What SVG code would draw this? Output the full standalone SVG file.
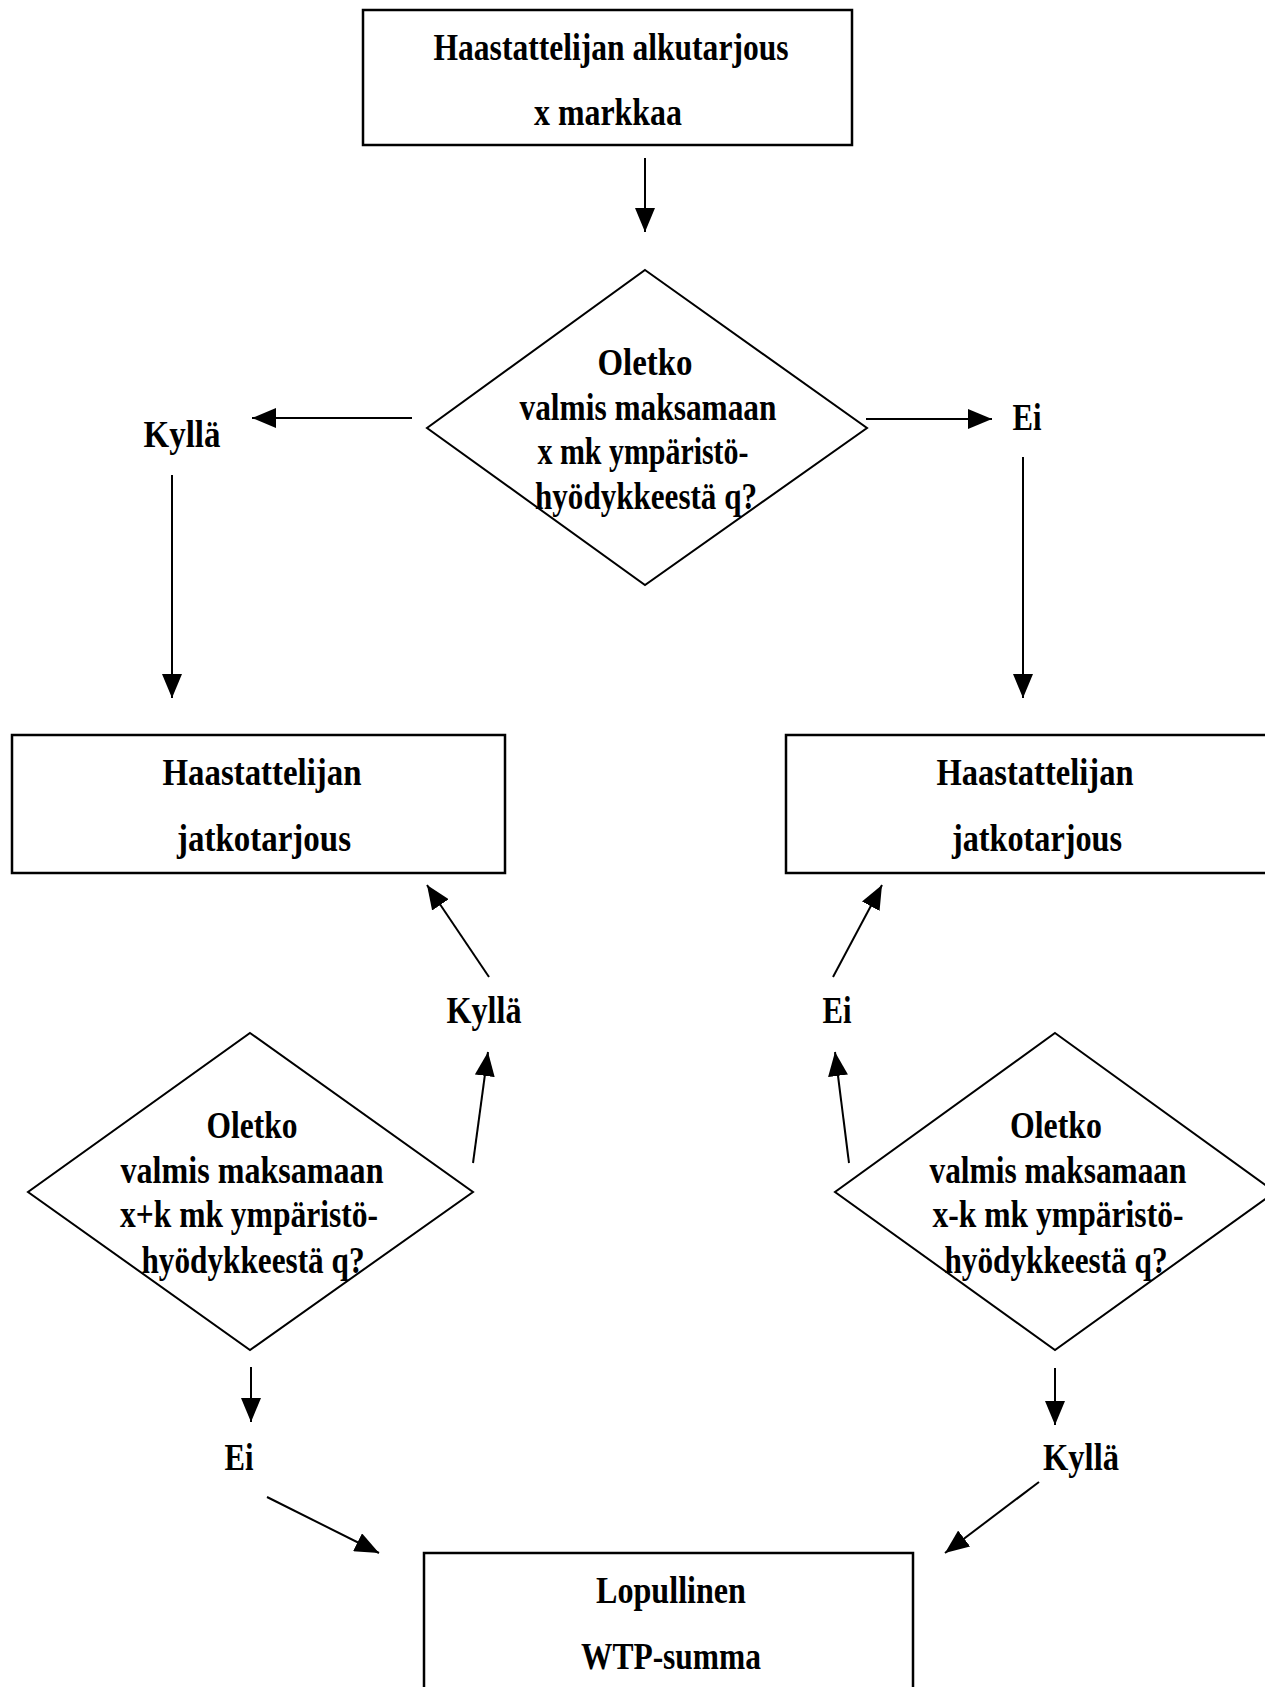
<svg xmlns="http://www.w3.org/2000/svg" width="1265" height="1687" viewBox="0 0 1265 1687">
<style>
.box{fill:#fff;stroke:#000;stroke-width:2.5}
.dia{fill:#fff;stroke:#000;stroke-width:2}
.t{font-family:"Liberation Serif","Times New Roman",serif;font-size:37px;font-weight:bold;fill:#000;text-anchor:middle}
.c{stroke:#000;stroke-width:2;fill:none;marker-end:url(#ah)}
</style>
<defs>
<marker id="ah" markerUnits="userSpaceOnUse" markerWidth="24" markerHeight="20" refX="24" refY="10" orient="auto">
<path d="M0,0 L24,10 L0,20 z" fill="#000"/>
</marker>
</defs>
<rect width="1265" height="1687" fill="#fff"/>

<g id="start">
<rect class="box" x="363" y="10" width="489" height="135"/>
<text class="t" x="611" y="60" textLength="355" lengthAdjust="spacingAndGlyphs">Haastattelijan alkutarjous</text>
<text class="t" x="608" y="125" textLength="148" lengthAdjust="spacingAndGlyphs">x markkaa</text>
</g>

<g id="q1">
<polygon class="dia" points="645,270 867,428 645,585 427,428"/>
<text class="t" x="645" y="375" textLength="95" lengthAdjust="spacingAndGlyphs">Oletko</text>
<text class="t" x="648" y="420" textLength="257" lengthAdjust="spacingAndGlyphs">valmis maksamaan</text>
<text class="t" x="643" y="464" textLength="211" lengthAdjust="spacingAndGlyphs">x mk ympäristö-</text>
<text class="t" x="646" y="509" textLength="222" lengthAdjust="spacingAndGlyphs">hyödykkeestä q?</text>
</g>

<g id="lbl-kylla1"><text class="t" x="182" y="447" textLength="77" lengthAdjust="spacingAndGlyphs">Kyllä</text></g>
<g id="lbl-ei1"><text class="t" x="1027" y="430" textLength="29" lengthAdjust="spacingAndGlyphs">Ei</text></g>

<g id="offerL">
<rect class="box" x="12" y="735" width="493" height="138"/>
<text class="t" x="262" y="785" textLength="199" lengthAdjust="spacingAndGlyphs">Haastattelijan</text>
<text class="t" x="264" y="851" textLength="174" lengthAdjust="spacingAndGlyphs">jatkotarjous</text>
</g>

<g id="offerR">
<rect class="box" x="786" y="735" width="490" height="138"/>
<text class="t" x="1035" y="785" textLength="197" lengthAdjust="spacingAndGlyphs">Haastattelijan</text>
<text class="t" x="1037" y="851" textLength="170" lengthAdjust="spacingAndGlyphs">jatkotarjous</text>
</g>

<g id="lbl-kylla2"><text class="t" x="484" y="1023" textLength="75" lengthAdjust="spacingAndGlyphs">Kyllä</text></g>
<g id="lbl-ei2"><text class="t" x="837" y="1023" textLength="29" lengthAdjust="spacingAndGlyphs">Ei</text></g>

<g id="q2">
<polygon class="dia" points="250,1033 473,1192 250,1350 28,1192"/>
<text class="t" x="252" y="1138" textLength="91" lengthAdjust="spacingAndGlyphs">Oletko</text>
<text class="t" x="252" y="1183" textLength="263" lengthAdjust="spacingAndGlyphs">valmis maksamaan</text>
<text class="t" x="249" y="1227" textLength="258" lengthAdjust="spacingAndGlyphs">x+k mk ympäristö-</text>
<text class="t" x="253" y="1273" textLength="223" lengthAdjust="spacingAndGlyphs">hyödykkeestä q?</text>
</g>

<g id="q3">
<polygon class="dia" points="1055,1033 1275,1192 1055,1350 835,1192"/>
<text class="t" x="1056" y="1138" textLength="92" lengthAdjust="spacingAndGlyphs">Oletko</text>
<text class="t" x="1058" y="1183" textLength="257" lengthAdjust="spacingAndGlyphs">valmis maksamaan</text>
<text class="t" x="1058" y="1227" textLength="251" lengthAdjust="spacingAndGlyphs">x-k mk ympäristö-</text>
<text class="t" x="1056" y="1273" textLength="223" lengthAdjust="spacingAndGlyphs">hyödykkeestä q?</text>
</g>

<g id="lbl-ei3"><text class="t" x="239" y="1470" textLength="29" lengthAdjust="spacingAndGlyphs">Ei</text></g>
<g id="lbl-kylla3"><text class="t" x="1081" y="1470" textLength="76" lengthAdjust="spacingAndGlyphs">Kyllä</text></g>

<g id="final">
<rect class="box" x="424" y="1553" width="489" height="150"/>
<text class="t" x="671" y="1603" textLength="150" lengthAdjust="spacingAndGlyphs">Lopullinen</text>
<text class="t" x="671" y="1669" textLength="180" lengthAdjust="spacingAndGlyphs">WTP-summa</text>
</g>

<g id="connectors">
<line class="c" x1="645" y1="158" x2="645" y2="232"/>
<line class="c" x1="412" y1="418" x2="252" y2="418"/>
<line class="c" x1="866" y1="419" x2="992" y2="419"/>
<line class="c" x1="172" y1="475" x2="172" y2="698"/>
<line class="c" x1="1023" y1="457" x2="1023" y2="698"/>
<line class="c" x1="489" y1="977" x2="427" y2="885"/>
<line class="c" x1="833" y1="977" x2="882" y2="885"/>
<line class="c" x1="473" y1="1163" x2="488" y2="1052"/>
<line class="c" x1="849" y1="1163" x2="835" y2="1052"/>
<line class="c" x1="251" y1="1367" x2="251" y2="1422"/>
<line class="c" x1="1055" y1="1368" x2="1055" y2="1425"/>
<line class="c" x1="267" y1="1497" x2="379" y2="1553"/>
<line class="c" x1="1039" y1="1482" x2="945" y2="1553"/>
</g>
</svg>
